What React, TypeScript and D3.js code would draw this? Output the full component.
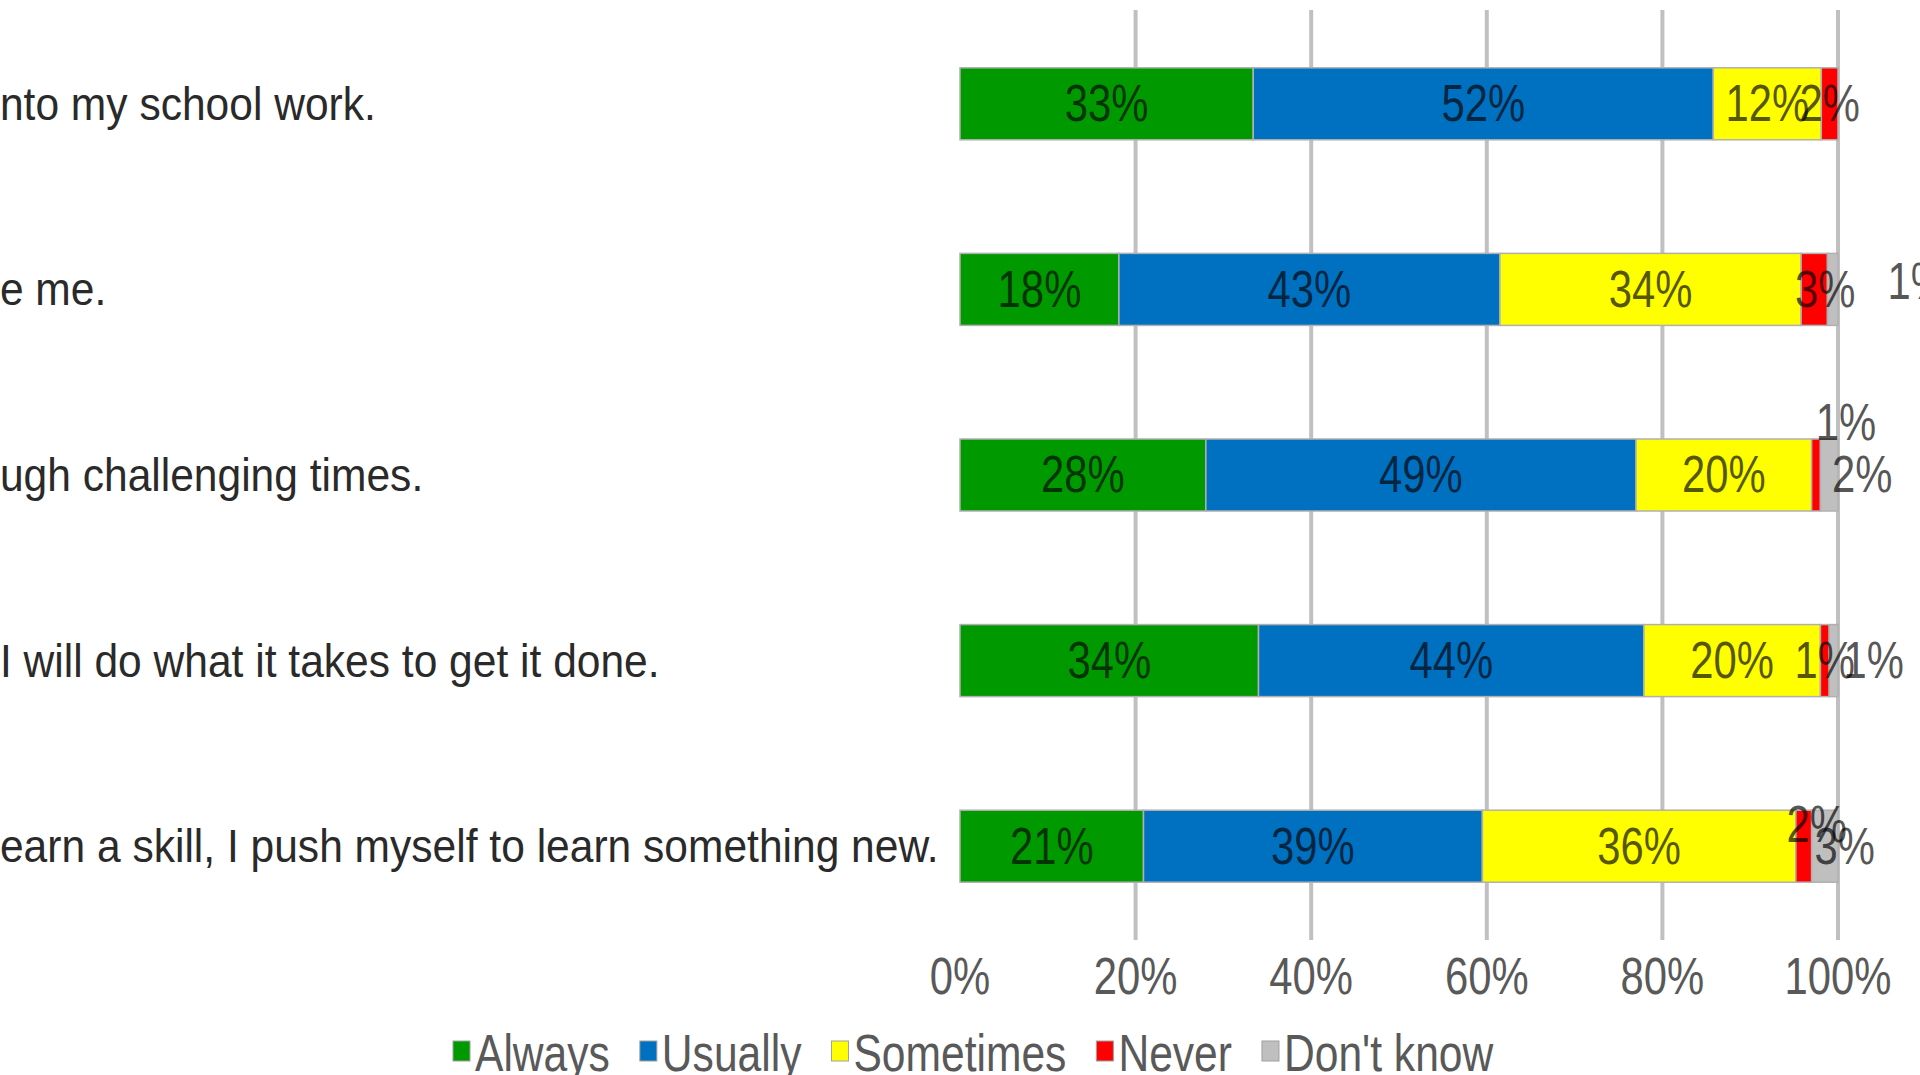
import React, { useEffect, useRef } from "react";
import * as d3 from "d3";

// Full statements; the chart is cropped on the left, so the leading part of each is cut off
const categories = [
  "I put a lot of effort into my school work.",
  "My teachers challenge me.",
  "I keep going through challenging times.",
  "When I have a task, I will do what it takes to get it done.",
  "When I learn a skill, I push myself to learn something new.",
];
// part of each statement hidden beyond the left edge of the picture
const hiddenPrefix = [
  "I put a lot of effort i",
  "My teachers challeng",
  "I keep going thro",
  "When I have a task, ",
  "When I l",
];

const seriesNames = ["Always", "Usually", "Sometimes", "Never", "Don't know"];
const always = [33.4, 18.1, 28.0, 34.0, 20.9];
const usually = [52.4, 43.4, 49.0, 43.9, 38.6];
const sometimes = [12.3, 34.3, 20.0, 20.1, 35.7];
const never = [1.9, 3.0, 1.0, 1.0, 1.8];
const dontKnow = [0, 1.2, 2.0, 1.0, 3.0];
const tickValues = [0, 20, 40, 60, 80, 100];

const colors = ["#009900", "#0070C0", "#FFFF00", "#FF0000", "#BFBFBF"];

// manually moved data labels: [row, series] -> [dx, dy] in px
const labelOffsets: Record<string, [number, number]> = {
  "1-3": [11, 0],
  "1-4": [85, -8],
  "2-3": [30, -52],
  "2-4": [33, 0],
  "3-4": [40, 0],
  "4-3": [13, -22],
  "4-4": [20, 0],
};

const W = 1920;
const H = 1075;
const FONT = "'Liberation Sans', Arial, sans-serif";
const FS = 51;
const SX = 0.82;
const CAT_FS = 46;
const CAT_SX = 0.925;
const LEG_SX = 0.835;

export default function App() {
  const ref = useRef<SVGSVGElement>(null);

  useEffect(() => {
    const svg = d3.select(ref.current);
    svg.selectAll("*").remove();

    const series = [always, usually, sometimes, never, dontKnow];
    const x = d3.scaleLinear().domain([0, 100]).range([960, 1838]);
    const y = d3
      .scaleBand<number>()
      .domain(d3.range(categories.length))
      .range([11, 939])
      .paddingInner(0.612)
      .paddingOuter(0.306);

    // gridlines
    svg
      .append("g")
      .selectAll("line")
      .data(tickValues.filter((t) => t > 0))
      .join("line")
      .attr("x1", (d) => x(d))
      .attr("x2", (d) => x(d))
      .attr("y1", 10)
      .attr("y2", 940)
      .attr("stroke", "#C0C0C0")
      .attr("stroke-width", 4);

    // stacked bars
    const rows = categories.map((c, i) => {
      let acc = 0;
      return series.map((s, k) => {
        const x0 = acc;
        acc += s[i];
        return { row: i, k, x0, x1: acc, v: s[i] };
      });
    });
    const segs = rows.flat().filter((d) => d.v > 0);

    svg
      .append("g")
      .selectAll("rect")
      .data(segs)
      .join("rect")
      .attr("x", (d) => x(d.x0))
      .attr("width", (d) => x(d.x1) - x(d.x0))
      .attr("y", (d) => y(d.row)!)
      .attr("height", y.bandwidth())
      .attr("fill", (d) => colors[d.k])
      .attr("stroke", "#B0B0B0")
      .attr("stroke-width", 1.5);

    // data labels
    const lbl = svg.append("g");
    segs.forEach((d) => {
      const off = labelOffsets[`${d.row}-${d.k}`] || [0, 0];
      const cx = (x(d.x0) + x(d.x1)) / 2 + off[0];
      const cy = y(d.row)! + y.bandwidth() / 2 + off[1];
      lbl
        .append("text")
        .attr("transform", `translate(${cx},${cy}) scale(${SX},1)`)
        .attr("text-anchor", "middle")
        .attr("dominant-baseline", "central")
        .attr("font-family", FONT)
        .attr("font-size", FS)
        .attr("fill", "#000")
        .attr("fill-opacity", 0.68)
        .text(`${Math.round(d.v)}%`);
    });

    // category labels (left aligned, cut off by the left edge)
    const catG = svg.append("g");
    const meas = svg
      .append("text")
      .attr("font-family", FONT)
      .attr("font-size", CAT_FS)
      .style("white-space", "pre")
      .attr("xml:space", "preserve")
      .attr("visibility", "hidden");
    categories.forEach((c, i) => {
      meas.text(hiddenPrefix[i]);
      const pw = (meas.node() as SVGTextElement).getComputedTextLength() * CAT_SX;
      catG
        .append("text")
        .attr(
          "transform",
          `translate(${-pw},${y(i)! + y.bandwidth() / 2}) scale(${CAT_SX},1)`
        )
        .attr("text-anchor", "start")
        .attr("dominant-baseline", "central")
        .attr("font-family", FONT)
        .attr("font-size", CAT_FS)
        .attr("fill", "#2a2a2a")
        .text(c);
    });
    meas.remove();

    // x tick labels
    svg
      .append("g")
      .selectAll("text")
      .data(tickValues)
      .join("text")
      .attr("transform", (d) => `translate(${x(d)},994) scale(${SX},1)`)
      .attr("text-anchor", "middle")
      .attr("font-family", FONT)
      .attr("font-size", FS)
      .attr("fill", "#595959")
      .text((d) => d3.format(".0%")(d / 100));

    // legend
    const leg = svg.append("g");
    let lx = 453;
    const ly = 1071;
    seriesNames.forEach((name, k) => {
      leg
        .append("rect")
        .attr("x", lx)
        .attr("y", 1041)
        .attr("width", 17)
        .attr("height", 20)
        .attr("fill", colors[k])
        .attr("stroke", "#A0A0A0")
        .attr("stroke-width", 1);
      const t = leg
        .append("text")
        .attr("transform", `translate(${lx + 22},${ly}) scale(${LEG_SX},1)`)
        .attr("font-family", FONT)
        .attr("font-size", FS)
        .attr("fill", "#595959")
        .text(name);
      const w = (t.node() as SVGTextElement).getComputedTextLength() * LEG_SX;
      lx += 22 + w + 30;
    });
  }, []);

  return (
    <svg
      ref={ref}
      width={W}
      height={H}
      style={{ position: "absolute", left: 0, top: 0, display: "block", background: "#fff" }}
    />
  );
}
